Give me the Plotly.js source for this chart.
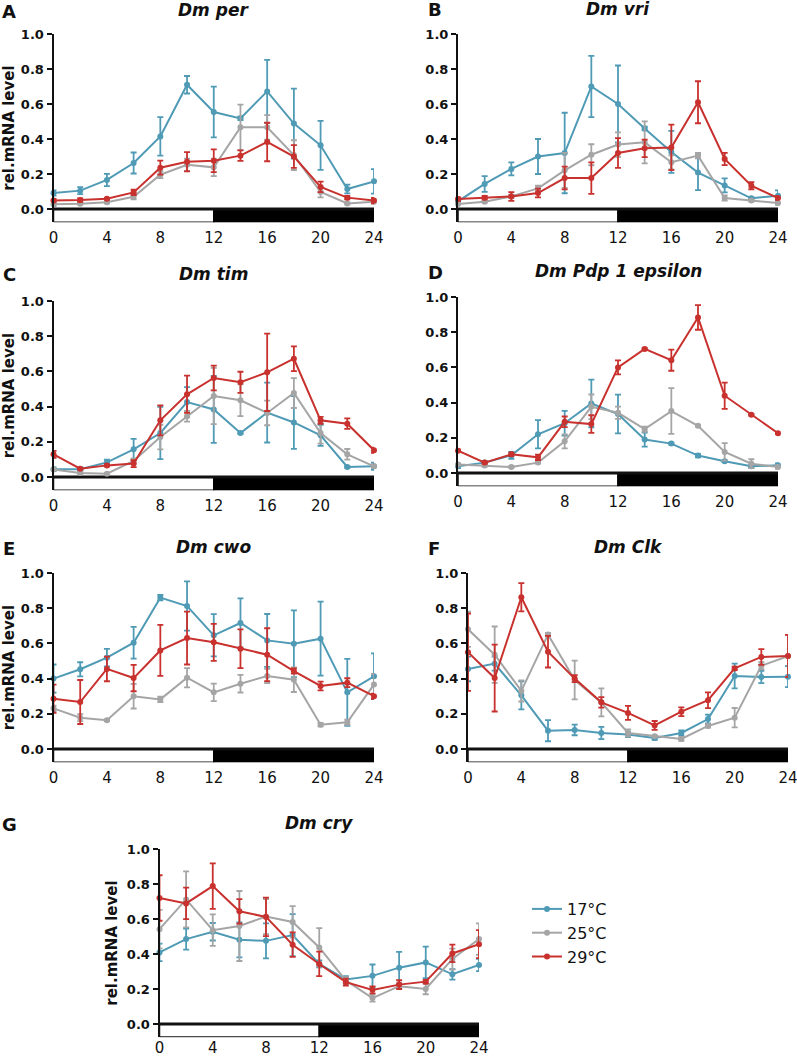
<!DOCTYPE html>
<html>
<head>
<meta charset="utf-8">
<script src="https://cdn.plot.ly/plotly-3.0.1.min.js"></script>
<style>
  html, body { margin: 0; padding: 0; background: white; }
  #chart { width: 797px; height: 1057px; }
</style>
</head>
<body>
<div id="chart"></div>
<script>
// Relative mRNA of clock genes over 24 h at three temperatures (panels A-G).
const HOURS = [0, 2, 4, 6, 8, 10, 12, 14, 16, 18, 20, 22, 24];
const HOUR_TICKS = [0, 4, 8, 12, 16, 20, 24];
const LIGHT_PHASE = [0, 12];
const DARK_PHASE = [12, 24];
const TEMPS = ['17°C', '25°C', '29°C'];

const PER_17 = [0.091, 0.105, 0.166, 0.263, 0.415, 0.71, 0.554, 0.518, 0.672, 0.488, 0.364, 0.114, 0.158];
const PER_17_ERR = [0.015, 0.02, 0.035, 0.06, 0.11, 0.05, 0.145, 0.01, 0.18, 0.2, 0.14, 0.025, 0.07];
const PER_25 = [0.027, 0.03, 0.038, 0.07, 0.196, 0.253, 0.238, 0.467, 0.467, 0.308, 0.097, 0.032, 0.042];
const PER_25_ERR = [0.01, 0.005, 0.005, 0.015, 0.02, 0.035, 0.05, 0.13, 0.07, 0.085, 0.03, 0.005, 0.01];
const PER_29 = [0.048, 0.051, 0.059, 0.095, 0.236, 0.27, 0.276, 0.305, 0.383, 0.3, 0.126, 0.065, 0.048];
const PER_29_ERR = [0.01, 0.01, 0.005, 0.015, 0.04, 0.055, 0.065, 0.03, 0.11, 0.065, 0.03, 0.01, 0.015];

const VRI_17 = [0.044, 0.143, 0.229, 0.3, 0.32, 0.7, 0.6, 0.46, 0.326, 0.208, 0.135, 0.061, 0.076];
const VRI_17_ERR = [0.01, 0.045, 0.037, 0.1, 0.23, 0.175, 0.22, 0.01, 0.12, 0.1, 0.04, 0.005, 0.03];
const VRI_25 = [0.029, 0.042, 0.072, 0.118, 0.221, 0.31, 0.368, 0.381, 0.267, 0.305, 0.063, 0.048, 0.034];
const VRI_25_ERR = [0.005, 0.005, 0.01, 0.015, 0.1, 0.06, 0.07, 0.12, 0.04, 0.015, 0.015, 0.005, 0.01];
const VRI_29 = [0.057, 0.065, 0.072, 0.091, 0.177, 0.177, 0.32, 0.347, 0.352, 0.61, 0.286, 0.133, 0.063];
const VRI_29_ERR = [0.01, 0.01, 0.025, 0.025, 0.065, 0.09, 0.085, 0.05, 0.13, 0.12, 0.035, 0.02, 0.01];

const TIM_17 = [0.044, 0.044, 0.083, 0.157, 0.25, 0.426, 0.384, 0.25, 0.366, 0.31, 0.237, 0.057, 0.061];
const TIM_17_ERR = [0.01, 0.01, 0.015, 0.06, 0.148, 0.085, 0.19, 0.005, 0.17, 0.15, 0.06, 0.005, 0.02];
const TIM_25 = [0.042, 0.023, 0.019, 0.091, 0.227, 0.345, 0.46, 0.436, 0.364, 0.477, 0.25, 0.129, 0.061];
const TIM_25_ERR = [0.005, 0.005, 0.005, 0.015, 0.07, 0.03, 0.16, 0.09, 0.07, 0.085, 0.06, 0.03, 0.01];
const TIM_29 = [0.129, 0.047, 0.066, 0.076, 0.322, 0.47, 0.5625, 0.538, 0.595, 0.672, 0.322, 0.303, 0.152];
const TIM_29_ERR = [0.02, 0.005, 0.005, 0.02, 0.085, 0.106, 0.07, 0.06, 0.22, 0.07, 0.02, 0.03, 0.015];

const PDP_17 = [0.038, 0.059, 0.1, 0.22, 0.283, 0.395, 0.335, 0.19, 0.167, 0.099, 0.067, 0.038, 0.044];
const PDP_17_ERR = [0.01, 0.01, 0.02, 0.08, 0.07, 0.135, 0.11, 0.04, 0.005, 0.01, 0.005, 0.01, 0.01];
const PDP_25 = [0.049, 0.042, 0.034, 0.059, 0.18, 0.376, 0.342, 0.249, 0.352, 0.268, 0.12, 0.053, 0.034];
const PDP_25_ERR = [0.005, 0.005, 0.005, 0.005, 0.04, 0.07, 0.035, 0.015, 0.13, 0.005, 0.05, 0.025, 0.01];
const PDP_29 = [0.127, 0.059, 0.106, 0.089, 0.291, 0.278, 0.6, 0.705, 0.641, 0.884, 0.439, 0.331, 0.226];
const PDP_29_ERR = [0.005, 0.005, 0.01, 0.015, 0.03, 0.05, 0.04, 0.005, 0.06, 0.07, 0.075, 0.005, 0.005];

const CWO_17 = [0.4, 0.453, 0.519, 0.604, 0.86, 0.8125, 0.646, 0.716, 0.617, 0.598, 0.627, 0.322, 0.413];
const CWO_17_ERR = [0.08, 0.04, 0.05, 0.09, 0.015, 0.14, 0.12, 0.14, 0.15, 0.19, 0.21, 0.19, 0.13];
const CWO_25 = [0.231, 0.178, 0.163, 0.3, 0.282, 0.405, 0.322, 0.371, 0.415, 0.394, 0.138, 0.152, 0.367];
const CWO_25_ERR = [0.015, 0.02, 0.005, 0.07, 0.015, 0.055, 0.05, 0.05, 0.04, 0.07, 0.01, 0.015, 0.06];
const CWO_29 = [0.286, 0.267, 0.455, 0.403, 0.56, 0.63, 0.606, 0.57, 0.536, 0.443, 0.358, 0.377, 0.3];
const CWO_29_ERR = [0.08, 0.125, 0.07, 0.075, 0.145, 0.15, 0.105, 0.11, 0.15, 0.015, 0.025, 0.025, 0.015];

const CLK_17 = [0.455, 0.485, 0.305, 0.104, 0.108, 0.091, 0.083, 0.0625, 0.091, 0.17, 0.415, 0.409, 0.411];
const CLK_17_ERR = [0.07, 0.04, 0.08, 0.06, 0.03, 0.035, 0.015, 0.01, 0.015, 0.025, 0.07, 0.035, 0.06];
const CLK_25 = [0.68, 0.536, 0.33, 0.65, 0.392, 0.265, 0.091, 0.072, 0.057, 0.131, 0.178, 0.473, 0.528];
const CLK_25_ERR = [0.1, 0.16, 0.06, 0.01, 0.11, 0.08, 0.02, 0.005, 0.01, 0.01, 0.055, 0.02, 0.12];
const CLK_29 = [0.55, 0.403, 0.862, 0.553, 0.4, 0.265, 0.205, 0.134, 0.212, 0.277, 0.458, 0.523, 0.528];
const CLK_29_ERR = [0.22, 0.19, 0.08, 0.09, 0.02, 0.03, 0.04, 0.025, 0.025, 0.045, 0.01, 0.045, 0.12];

const CRY_17 = [0.409, 0.485, 0.527, 0.481, 0.475, 0.508, 0.343, 0.254, 0.275, 0.322, 0.352, 0.284, 0.337];
const CRY_17_ERR = [0.05, 0.06, 0.05, 0.1, 0.1, 0.12, 0.02, 0.02, 0.065, 0.09, 0.09, 0.03, 0.035];
const CRY_25 = [0.542, 0.712, 0.536, 0.56, 0.614, 0.583, 0.4375, 0.248, 0.148, 0.216, 0.2, 0.371, 0.485];
const CRY_25_ERR = [0.11, 0.16, 0.09, 0.2, 0.1, 0.09, 0.11, 0.02, 0.02, 0.01, 0.03, 0.06, 0.09];
const CRY_29 = [0.72, 0.689, 0.788, 0.644, 0.612, 0.453, 0.343, 0.239, 0.195, 0.225, 0.242, 0.403, 0.456];
const CRY_29_ERR = [0.13, 0.09, 0.13, 0.07, 0.11, 0.07, 0.07, 0.02, 0.02, 0.025, 0.01, 0.05, 0.08];

const COLORS = ['#4f9ab5', '#a5a5a5', '#c8312d'];
const FONT = 'DejaVu Sans, Arial, sans-serif';
const W = 797;
const H = 1057;

// Panel boxes in page pixels: left/right of 0..24 h, y of 1.0 and 0.0.
const PANELS = [
  { letter: 'A', gene: 'Dm per', series: [[PER_17, PER_17_ERR], [PER_25, PER_25_ERR], [PER_29, PER_29_ERR]],
    box: [53.5, 374, 34, 209], ylabel: true, titleY: 10, letterX: 9, labelGap: 2 },
  { letter: 'B', gene: 'Dm vri', series: [[VRI_17, VRI_17_ERR], [VRI_25, VRI_25_ERR], [VRI_29, VRI_29_ERR]],
    box: [458, 778, 34, 209], ylabel: false, titleY: 9, letterX: 435, labelGap: 2 },
  { letter: 'C', gene: 'Dm tim', series: [[TIM_17, TIM_17_ERR], [TIM_25, TIM_25_ERR], [TIM_29, TIM_29_ERR]],
    box: [53.5, 374, 301, 477], ylabel: true, titleY: 274, letterX: 9, labelGap: 2 },
  { letter: 'D', gene: 'Dm Pdp 1 epsilon', series: [[PDP_17, PDP_17_ERR], [PDP_25, PDP_25_ERR], [PDP_29, PDP_29_ERR]],
    box: [458, 778, 297, 473], ylabel: false, titleY: 271, letterX: 435, labelGap: 2 },
  { letter: 'E', gene: 'Dm cwo', series: [[CWO_17, CWO_17_ERR], [CWO_25, CWO_25_ERR], [CWO_29, CWO_29_ERR]],
    box: [53.5, 374, 573, 749], ylabel: true, titleY: 547, letterX: 9, labelGap: 2 },
  { letter: 'F', gene: 'Dm Clk', series: [[CLK_17, CLK_17_ERR], [CLK_25, CLK_25_ERR], [CLK_29, CLK_29_ERR]],
    box: [468, 788, 573, 749], ylabel: false, titleY: 547, letterX: 434, labelGap: 2 },
  { letter: 'G', gene: 'Dm cry', series: [[CRY_17, CRY_17_ERR], [CRY_25, CRY_25_ERR], [CRY_29, CRY_29_ERR]],
    box: [159.5, 479, 849, 1024], ylabel: true, titleY: 823, letterX: 9, labelGap: 0 },
];

const Y_MIN = -0.075;
const Y_MAX = 1.0;

const traces = [];
const layout = {
  width: W,
  height: H,
  margin: { l: 0, r: 0, t: 0, b: 0 },
  paper_bgcolor: 'white',
  plot_bgcolor: 'white',
  showlegend: true,
  legend: {
    x: 527 / W, y: 1 - 892 / H, xanchor: 'left', yanchor: 'top',
    font: { family: FONT, size: 16, color: '#111' },
    tracegroupgap: 0,
    bgcolor: 'rgba(0,0,0,0)',
  },
  shapes: [],
  annotations: [],
};

PANELS.forEach((p, i) => {
  const n = i === 0 ? '' : String(i + 1);
  const [xl, xr, yTop, yZero] = p.box;
  const yBottom = yZero + (yZero - yTop) * (-Y_MIN) / (Y_MAX - 0);

  layout['xaxis' + n] = {
    domain: [xl / W, xr / W],
    anchor: 'y' + n,
    range: [0, 24],
    tickvals: HOUR_TICKS,
    ticks: p.labelGap ? 'outside' : '', ticklen: p.labelGap, tickcolor: 'rgba(0,0,0,0)',
    ticklabeloverflow: 'allow',
    showline: false, showgrid: false, zeroline: false,
    tickfont: { family: FONT, size: 15, color: '#111' },
    fixedrange: true,
  };
  layout['yaxis' + n] = {
    domain: [1 - yBottom / H, 1 - yTop / H],
    anchor: 'x' + n,
    range: [Y_MIN, Y_MAX],
    tick0: 0, dtick: 0.2, tickformat: '.1f',
    ticks: 'outside', ticklen: 5, tickwidth: 2, tickcolor: '#111',
    showline: true, linewidth: 2, linecolor: '#111',
    showgrid: false, zeroline: false,
    tickfont: { family: FONT, size: 13, color: '#111', weight: 'bold' },
    fixedrange: true,
  };
  if (p.ylabel) {
    layout['yaxis' + n].title = {
      text: 'rel.mRNA level', standoff: 6,
      font: { family: FONT, size: 15, color: '#111', weight: 'bold' },
    };
  }

  // light / dark bar under each panel
  layout.shapes.push(
    { type: 'rect', xref: 'x' + n, yref: 'y' + n, x0: LIGHT_PHASE[0], x1: LIGHT_PHASE[1], y0: Y_MIN, y1: 0,
      fillcolor: 'white', line: { color: '#111', width: 1.5 }, layer: 'below' },
    { type: 'rect', xref: 'x' + n, yref: 'y' + n, x0: DARK_PHASE[0], x1: DARK_PHASE[1], y0: Y_MIN, y1: 0,
      fillcolor: '#000', line: { color: '#000', width: 1.5 }, layer: 'below' },
    { type: 'line', xref: 'x' + n, yref: 'y' + n, x0: LIGHT_PHASE[0], x1: DARK_PHASE[1], y0: 0, y1: 0,
      line: { color: '#111', width: 3 }, layer: 'below' },
  );

  layout.annotations.push(
    { xref: 'paper', yref: 'paper', x: (xl + xr) / 2 / W, y: 1 - p.titleY / H, xanchor: 'center', yanchor: 'middle',
      text: p.gene, showarrow: false,
      font: { family: FONT, size: 17, color: '#111', weight: 'bold', style: 'italic' } },
    { xref: 'paper', yref: 'paper', x: p.letterX / W, y: 1 - (p.titleY + 1) / H, xanchor: 'center', yanchor: 'middle',
      text: p.letter, showarrow: false,
      font: { family: FONT, size: 18, color: '#111', weight: 'bold' } },
  );

  p.series.forEach(([vals, errs], k) => {
    traces.push({
      type: 'scatter', mode: 'lines+markers',
      x: HOURS, y: vals,
      xaxis: 'x' + n, yaxis: 'y' + n,
      name: TEMPS[k],
      showlegend: p.letter === 'G',
      cliponaxis: false,
      line: { color: COLORS[k], width: 2 },
      marker: { color: COLORS[k], size: 6 },
      error_y: { type: 'data', array: errs, visible: true, color: COLORS[k], thickness: 1.8, width: 3 },
    });
  });
});

Plotly.newPlot('chart', traces, layout, { staticPlot: true, displayModeBar: false });
</script>
</body>
</html>
